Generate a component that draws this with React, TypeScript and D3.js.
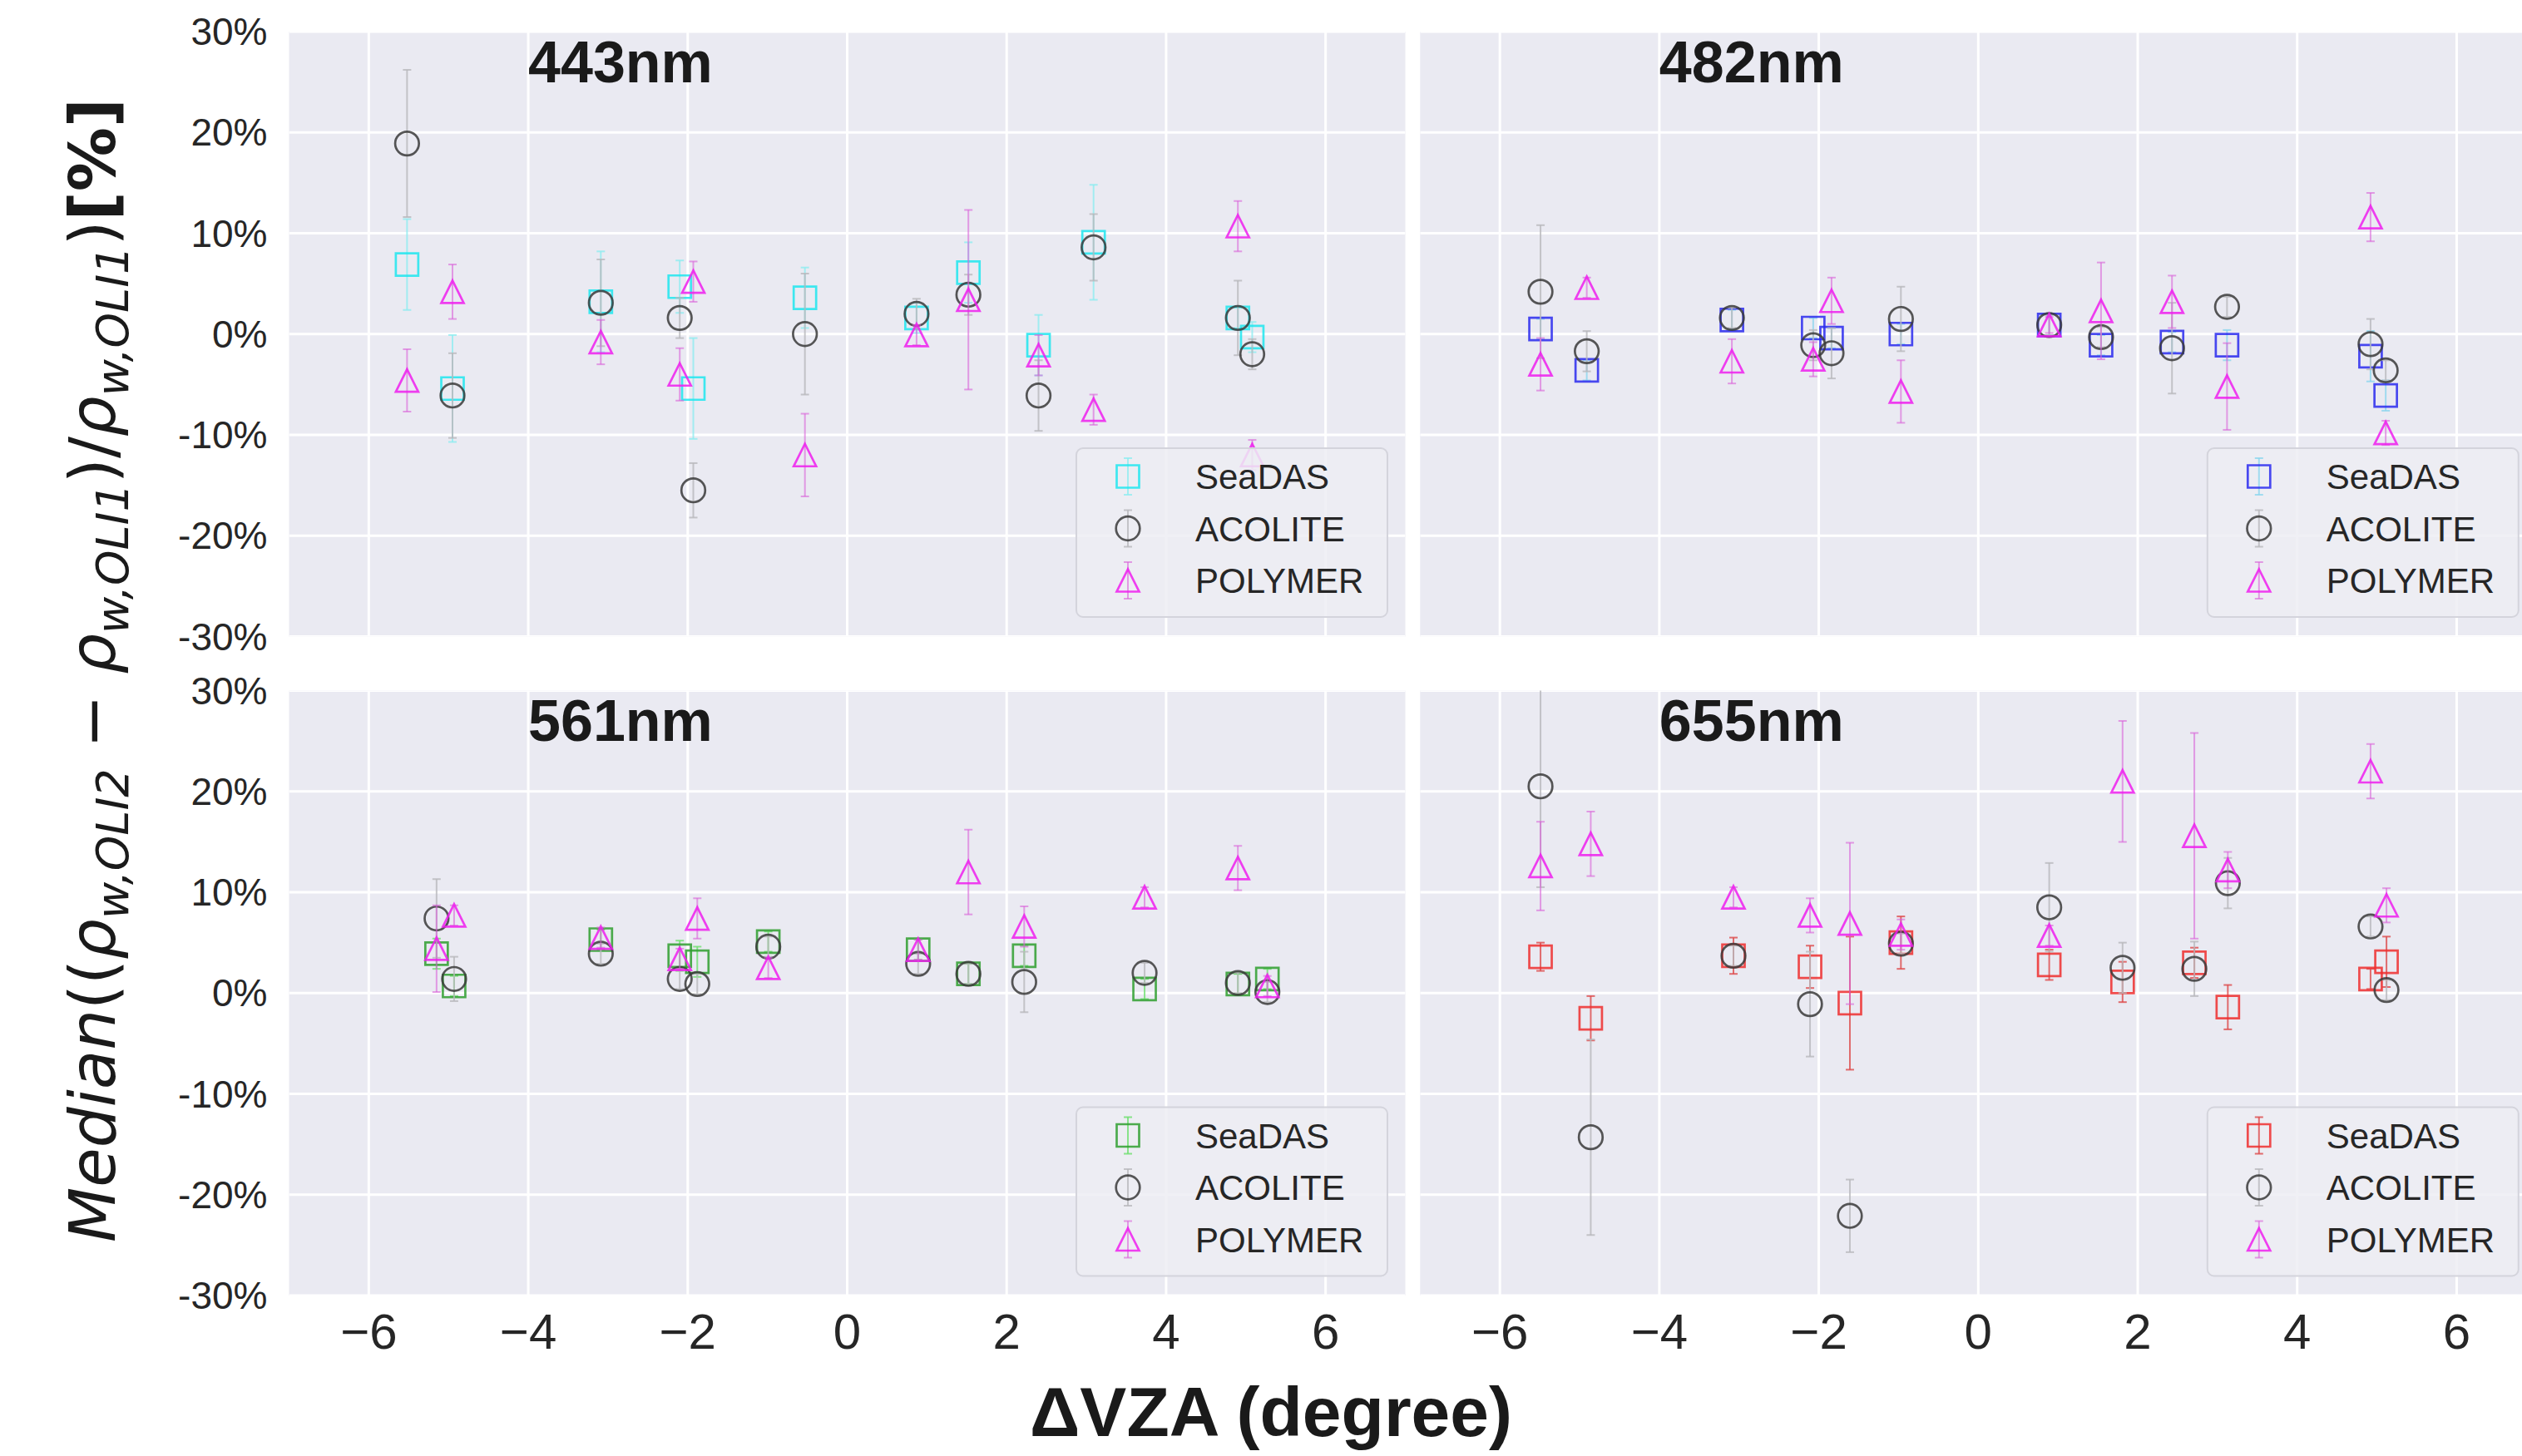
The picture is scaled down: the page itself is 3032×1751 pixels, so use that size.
import React from 'react';
import * as d3 from 'd3';

// ΔVZA positions and median differences (%) read per band
const xTicks = [-6, -4, -2, 0, 2, 4, 6];
const yTicks = [-30, -20, -10, 0, 10, 20, 30];
const methods = ['SeaDAS', 'ACOLITE', 'POLYMER'];

const vza443 = [-5.52, -4.95, -3.09, -2.1, -1.93, -0.53, 0.87, 1.52, 2.4, 3.09, 4.9, 5.08];
const seadas443 = [6.9, -5.4, 3.2, 4.7, -5.4, 3.6, 1.6, 6.1, -1.1, 9.1, 1.6, -0.3];
const seadasErr443 = [4.5, 5.3, 5.0, 2.6, 5.0, 3.0, 1.5, 3.0, 3.0, 5.7, 1.0, 1.5];
const acolite443 = [18.9, -6.1, 3.1, 1.6, -15.5, 0.0, 2.0, 3.9, -6.1, 8.6, 1.6, -2.0];
const acoliteErr443 = [7.3, 4.2, 4.3, 2.0, 2.7, 6.0, 1.5, 2.0, 3.5, 3.3, 3.7, 1.5];
const polymer443 = [-4.6, 4.2, -0.8, -4.0, 5.2, -12.0, -0.1, 3.4, -2.1, -7.5, 10.7, -12.0];
const polymerErr443 = [3.1, 2.7, 2.2, 2.6, 2.0, 4.1, 1.0, 8.9, 2.0, 1.5, 2.5, 1.5];

const vza482 = [-5.49, -4.91, -3.09, -2.07, -1.84, -0.97, 0.89, 1.54, 2.43, 3.12, 4.92, 5.11];
const seadas482 = [0.5, -3.6, 1.4, 0.6, -0.4, 0.0, 0.9, -1.1, -0.8, -1.1, -2.2, -6.1];
const seadasErr482 = [1, 1, 1, 1, 1, 1, 1, 1, 1, 1.5, 2.5, 1.5];
const acolite482 = [4.2, -1.7, 1.6, -1.1, -1.9, 1.5, 0.9, -0.3, -1.4, 2.7, -1.0, -3.6];
const acoliteErr482 = [6.6, 2.0, 1.0, 1.5, 2.5, 3.2, 1.0, 1.0, 4.5, 1.0, 2.5, 1.0];
const polymer482 = [-3.0, 4.6, -2.7, -2.5, 3.3, -5.7, 0.9, 2.3, 3.2, -5.2, 11.6, -9.8];
const polymerErr482 = [2.6, 1.0, 2.2, 1.7, 2.3, 3.1, 0.8, 4.8, 2.6, 4.3, 2.4, 1.2];

const vza561 = [-5.15, -4.93, -3.09, -2.1, -1.88, -0.99, 0.89, 1.52, 2.22, 3.73, 4.9, 5.27];
const seadas561 = [3.9, 0.7, 5.3, 3.7, 3.1, 5.1, 4.3, 1.9, 3.7, 0.4, 0.9, 1.4];
const seadasErr561 = [1.5, 1, 1, 1.5, 1.5, 1, 1, 1, 1, 1, 1, 1];
const acolite561 = [7.4, 1.4, 3.9, 1.4, 0.9, 4.6, 2.9, 1.9, 1.1, 2.0, 1.0, 0.1];
const acoliteErr561 = [3.9, 2.2, 1, 1, 1, 1, 1, 1, 3, 1, 1, 1];
const polymer561 = [4.4, 7.7, 5.5, 3.4, 7.4, 2.5, 4.3, 12.0, 6.6, 9.5, 12.4, 0.7];
const polymerErr561 = [4.3, 1, 1, 1, 2, 1, 1, 4.2, 2, 1, 2.2, 1];

const vza655 = [-5.49, -4.86, -3.07, -2.11, -1.61, -0.97, 0.89, 1.81, 2.71, 3.13, 4.92, 5.12];
const seadas655 = [3.6, -2.5, 3.7, 2.6, -1.0, 5.0, 2.8, 1.1, 3.0, -1.4, 1.4, 3.1];
const seadasErr655 = [1.4, 2.2, 1.8, 2.1, 6.6, 2.6, 1.5, 2.0, 1.5, 2.2, 1.0, 2.5];
const acolite655 = [20.5, -14.3, 3.7, -1.1, -22.1, 4.9, 8.5, 2.5, 2.4, 10.9, 6.6, 0.3];
const acoliteErr655 = [10, 9.7, 1, 5.2, 3.6, 1, 4.4, 2.5, 2.7, 2.5, 1, 1];
const polymer655 = [12.6, 14.8, 9.5, 7.7, 6.9, 5.8, 5.7, 21.0, 15.6, 12.2, 22.0, 8.7];
const polymerErr655 = [4.4, 3.2, 1, 1.7, 8.0, 1.5, 1, 6.0, 10.2, 1.8, 2.7, 1.7];

const bg = '#eaeaf2';
const textColor = '#262626';
const sansFont = '"Liberation Sans", Arial, sans-serif';

const panels = [
  { name: '443nm', row: 0, col: 0, vza: vza443,
    series: [[seadas443, seadasErr443], [acolite443, acoliteErr443], [polymer443, polymerErr443]],
    seaColor: '#1ee6ee', seaBar: '#8eecf0' },
  { name: '482nm', row: 0, col: 1, vza: vza482,
    series: [[seadas482, seadasErr482], [acolite482, acoliteErr482], [polymer482, polymerErr482]],
    seaColor: '#2a2aee', seaBar: '#8cd6ee' },
  { name: '561nm', row: 1, col: 0, vza: vza561,
    series: [[seadas561, seadasErr561], [acolite561, acoliteErr561], [polymer561, polymerErr561]],
    seaColor: '#2f9f2f', seaBar: '#6ee06e' },
  { name: '655nm', row: 1, col: 1, vza: vza655,
    series: [[seadas655, seadasErr655], [acolite655, acoliteErr655], [polymer655, polymerErr655]],
    seaColor: '#ee2e2e', seaBar: '#dd4a4a' },
];

const colX = [347.5, 1707.3];
const rowY = [38, 830.5];
const panelW = 1342;
const panelH = 727.5;

// marker glyph, centred on 0,0
function markerPath(kind) {
  if (kind === 0) return 'M-13.5,-13.5H13.5V13.5H-13.5Z';
  if (kind === 1) return d3.symbol().type(d3.symbolCircle).size(Math.PI * 14.3 * 14.3)();
  return 'M0,-13.5L13.5,13.5L-13.5,13.5Z';
}

function Marker({ kind, x, y, color }) {
  return <path d={markerPath(kind)} transform={`translate(${x},${y})`} fill="none"
    stroke={color} strokeWidth={2.7} strokeOpacity={0.85} />;
}

function ErrBar({ x, y0, y1, color, op }) {
  return (
    <g stroke={color} strokeWidth={2} strokeOpacity={op}>
      <line x1={x} x2={x} y1={y0} y2={y1} />
      <line x1={x - 5} x2={x + 5} y1={y0} y2={y0} />
      <line x1={x - 5} x2={x + 5} y1={y1} y2={y1} />
    </g>
  );
}

function Panel({ p, idx }) {
  const left = colX[p.col];
  const top = rowY[p.row];
  const x = d3.scaleLinear().domain([-7, 7]).range([left, left + panelW]);
  const y = d3.scaleLinear().domain([-30, 30]).range([top + panelH, top]);
  const colors = [p.seaColor, '#3a3a3a', '#ee1eee'];
  const bars = [p.seaBar, '#b8b8bc', '#d860d8'];
  const barOp = [0.8, 0.8, 0.6];
  const clipId = `clip-${idx}`;
  const lx = left + panelW - 21.5 - 374;
  const ly = top + panelH - 23.5 - 203;
  return (
    <g>
      <defs>
        <clipPath id={clipId}>
          <rect x={left} y={top} width={panelW} height={panelH} />
        </clipPath>
      </defs>
      <rect x={left} y={top} width={panelW} height={panelH} fill={bg} />
      <g clipPath={`url(#${clipId})`}>
        {xTicks.map(t => (
          <line key={'gx' + t} x1={x(t)} x2={x(t)} y1={top} y2={top + panelH} stroke="#fff" strokeWidth={3} />
        ))}
        {yTicks.map(t => (
          <line key={'gy' + t} x1={left} x2={left + panelW} y1={y(t)} y2={y(t)} stroke="#fff" strokeWidth={3} />
        ))}
        <text x={x(-4)} y={y(25)} fontFamily={sansFont} fontWeight="bold" fontSize={70} fill="#1a1a1a">{p.name}</text>
        {p.series.map(([vals, errs], s) => (
          <g key={'s' + s}>
            {vals.map((v, i) => (
              <ErrBar key={'e' + i} x={x(p.vza[i])} y0={y(v + errs[i])} y1={y(v - errs[i])} color={bars[s]} op={barOp[s]} />
            ))}
            {vals.map((v, i) => (
              <Marker key={'m' + i} kind={s} x={x(p.vza[i])} y={y(v)} color={colors[s]} />
            ))}
          </g>
        ))}
      </g>
      {p.col === 0 && yTicks.map(t => (
        <text key={'yt' + t} x={left - 26} y={y(t) + 16} textAnchor="end" fontFamily={sansFont}
          fontSize={46} fill={textColor}>{`${t}%`}</text>
      ))}
      {p.row === 1 && xTicks.map(t => (
        <text key={'xt' + t} x={x(t)} y={top + panelH + 64} textAnchor="middle" fontFamily={sansFont}
          fontSize={60} fill={textColor}>{t < 0 ? `\u2212${-t}` : `${t}`}</text>
      ))}
      <g transform={`translate(${lx},${ly})`}>
        <rect x={0} y={0} width={374} height={203} rx={8} fill="#ededf3" fillOpacity={0.85} stroke="#d4d4dc" strokeWidth={2} />
        {methods.map((m, s) => {
          const cy = 34 + s * 62.5;
          return (
            <g key={m}>
              <ErrBar x={62} y0={cy - 22} y1={cy + 22} color={bars[s]} op={barOp[s]} />
              <Marker kind={s} x={62} y={cy} color={colors[s]} />
              <text x={143} y={cy + 15} fontFamily={sansFont} fontSize={42} fill={textColor}>{m}</text>
            </g>
          );
        })}
      </g>
    </g>
  );
}

export default function App() {
  const subSize = 54;
  const sh = 16;
  return (
    <svg width={3032} height={1751} style={{ position: 'absolute', left: 0, top: 0, background: '#fff' }}>
      {panels.map((p, i) => <Panel key={p.name} p={p} idx={i} />)}
      <text x={1528} y={1727} textAnchor="middle" fontFamily={sansFont} fontWeight="bold" fontSize={84} fill="#1a1a1a">
        ΔVZA (degree)
      </text>
      <text transform="translate(138,806) rotate(-90)" textAnchor="middle" fontFamily='"DejaVu Sans", sans-serif'
        fontSize={77} fill="#1a1a1a">
        <tspan fontStyle="italic">Median</tspan>
        <tspan>((</tspan>
        <tspan fontStyle="italic">ρ</tspan>
        <tspan fontStyle="italic" fontSize={subSize} dy={sh}>w,OLI2</tspan>
        <tspan dy={-sh}>{' \u2212 '}</tspan>
        <tspan fontStyle="italic">ρ</tspan>
        <tspan fontStyle="italic" fontSize={subSize} dy={sh}>w,OLI1</tspan>
        <tspan dy={-sh}>)/</tspan>
        <tspan fontStyle="italic">ρ</tspan>
        <tspan fontStyle="italic" fontSize={subSize} dy={sh}>w,OLI1</tspan>
        <tspan dy={-sh}>)</tspan>
        <tspan fontWeight="bold">[%]</tspan>
      </text>
    </svg>
  );
}
